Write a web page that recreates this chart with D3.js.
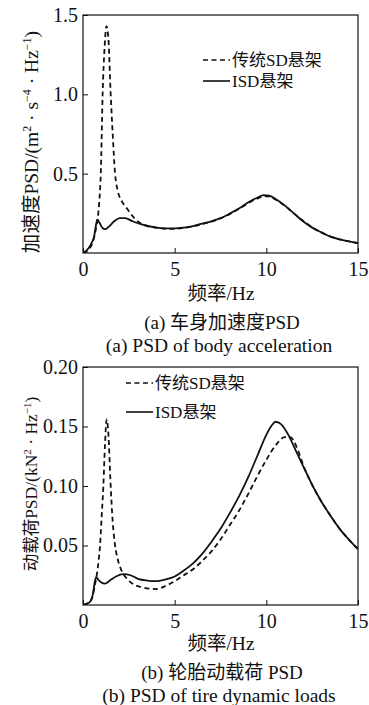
<!DOCTYPE html>
<html>
<head>
<meta charset="utf-8">
<script src="https://cdn.jsdelivr.net/npm/d3@7"></script>
<style>
  body { margin: 0; background: #fff; }
  svg { display: block; }
  svg text { font-family: "Liberation Serif", "DejaVu Serif", "Noto Sans CJK SC", serif; fill: #111; }
</style>
</head>
<body>
<div id="chart"></div>
<script>
// data
const xTicks = [0, 5, 10, 15];
const accTicks = [0.5, 1.0, 1.5];
const loadTicks = [0.05, 0.10, 0.15, 0.20];

// (a) body acceleration PSD
const accFreqSD = [0, 0.3, 0.5, 0.7, 0.85, 0.92, 0.97, 1.07, 1.18, 1.28, 1.38, 1.51, 1.62, 1.75, 1.9, 2.1, 2.4, 2.8, 3.1, 3.5, 4, 4.5, 5, 5.5, 6, 6.5, 7, 7.5, 8, 8.5, 9, 9.5, 9.9, 10.2, 10.5, 11, 11.5, 12, 12.5, 13, 13.5, 14, 14.5, 15];
const accSD =     [0, 0.02, 0.06, 0.15, 0.27, 0.38, 0.5, 1.0, 1.3, 1.43, 1.36, 1.0, 0.75, 0.5, 0.39, 0.33, 0.28, 0.22, 0.19, 0.17, 0.16, 0.152, 0.152, 0.158, 0.168, 0.182, 0.198, 0.218, 0.245, 0.277, 0.313, 0.343, 0.358, 0.355, 0.337, 0.298, 0.25, 0.203, 0.162, 0.13, 0.103, 0.086, 0.073, 0.062];
const accFreqISD = [0, 0.3, 0.5, 0.6, 0.7, 0.78, 0.9, 1.05, 1.2, 1.4, 1.7, 2.0, 2.3, 2.7, 3.2, 4, 4.5, 5, 5.5, 6, 6.5, 7, 7.5, 8, 8.5, 9, 9.5, 9.85, 10.2, 10.5, 11, 11.5, 12, 12.5, 13, 13.5, 14, 14.5, 15];
const accISD =     [0, 0.03, 0.07, 0.1, 0.17, 0.21, 0.19, 0.16, 0.15, 0.165, 0.2, 0.22, 0.22, 0.2, 0.18, 0.16, 0.155, 0.155, 0.16, 0.17, 0.185, 0.2, 0.22, 0.248, 0.28, 0.318, 0.348, 0.365, 0.36, 0.34, 0.3, 0.25, 0.2, 0.16, 0.13, 0.103, 0.086, 0.073, 0.063];

// (b) tire dynamic load PSD
const loadFreqSD = [0, 0.3, 0.5, 0.65, 0.75, 0.85, 0.93, 1.02, 1.11, 1.2, 1.29, 1.38, 1.51, 1.62, 1.75, 1.9, 2.1, 2.4, 2.8, 3.2, 3.6, 4.0, 4.5, 5.0, 5.5, 6.0, 6.5, 7.0, 7.5, 8.0, 8.5, 9.0, 9.5, 10.0, 10.5, 11.0, 11.3, 11.7, 12.0, 12.5, 13.0, 13.5, 14.0, 14.5, 15.0];
const loadSD =     [0, 0.002, 0.006, 0.017, 0.025, 0.037, 0.05, 0.075, 0.1, 0.135, 0.156, 0.145, 0.1, 0.07, 0.05, 0.038, 0.029, 0.022, 0.017, 0.015, 0.0138, 0.0134, 0.016, 0.02, 0.025, 0.03, 0.037, 0.045, 0.055, 0.067, 0.079, 0.093, 0.108, 0.122, 0.134, 0.141, 0.141, 0.131, 0.118, 0.101, 0.087, 0.075, 0.064, 0.055, 0.047];
const loadFreqISD = [0, 0.2, 0.4, 0.55, 0.65, 0.72, 0.85, 1.0, 1.2, 1.5, 1.8, 2.2, 2.6, 3.0, 3.5, 4.0, 4.5, 5.0, 5.5, 6.0, 6.5, 7.0, 7.5, 8.0, 8.5, 9.0, 9.5, 10.0, 10.3, 10.5, 10.8, 11.2, 11.6, 12.0, 12.5, 13.0, 13.5, 14.0, 14.5, 15.0];
const loadISD =     [0, 0.001, 0.003, 0.01, 0.02, 0.0235, 0.021, 0.019, 0.018, 0.021, 0.024, 0.026, 0.025, 0.022, 0.0205, 0.02, 0.0215, 0.024, 0.029, 0.035, 0.043, 0.053, 0.064, 0.077, 0.091, 0.107, 0.125, 0.143, 0.151, 0.154, 0.152, 0.143, 0.13, 0.117, 0.101, 0.087, 0.075, 0.064, 0.055, 0.047];

const legendSD = "传统SD悬架";
const legendISD = "ISD悬架";
const xTitle = "频率/Hz";

const FONT = '"Liberation Serif", "DejaVu Serif", "Noto Sans CJK SC", serif';

const svg = d3.select("#chart")
  .append("svg")
  .attr("width", 369)
  .attr("height", 705);

const x0 = 83, x1 = 358;

function drawPanel(p) {
  const g = svg.append("g");
  const xScale = d3.scaleLinear().domain([0, 15]).range([x0, x1]);
  const yScale = d3.scaleLinear().domain([0, p.yMax]).range([p.bottom, p.top]);

  const clipId = "clip-" + p.id;
  g.append("clipPath").attr("id", clipId)
    .append("rect")
    .attr("x", x0).attr("y", p.top)
    .attr("width", x1 - x0).attr("height", p.bottom - p.top);

  // axes: ticks point inward
  const xAxis = d3.axisBottom(xScale).tickValues(xTicks).tickSizeInner(-5).tickSizeOuter(0).tickPadding(9);
  const yAxis = d3.axisLeft(yScale).tickValues(p.yTicks).tickFormat(d3.format(p.fmt)).tickSizeInner(-5).tickSizeOuter(0).tickPadding(5);

  const gx = g.append("g").attr("transform", `translate(0, ${p.bottom})`).call(xAxis);
  const gy = g.append("g").attr("transform", `translate(${x0}, 0)`).call(yAxis);
  [gx, gy].forEach((a) => {
    a.attr("font-family", FONT);
    a.select(".domain").remove();
    a.selectAll("text").style("font-size", "20px").style("font-family", FONT).attr("fill", "#111");
    a.selectAll("line").attr("stroke", "#111");
  });
  gx.selectAll("text").attr("dy", "0.71em");

  g.append("rect")
    .attr("x", x0).attr("y", p.top)
    .attr("width", x1 - x0).attr("height", p.bottom - p.top)
    .attr("fill", "none").attr("stroke", "#111").attr("stroke-width", 1.2);

  const line = d3.line()
    .x((d) => xScale(d[0]))
    .y((d) => yScale(d[1]))
    .curve(d3.curveMonotoneX);

  const sd = p.freqSD.map((f, i) => [f, p.valSD[i]]);
  const isd = p.freqISD.map((f, i) => [f, p.valISD[i]]);

  g.append("path").datum(sd)
    .attr("clip-path", `url(#${clipId})`)
    .attr("d", line).attr("fill", "none")
    .attr("stroke", "#111").attr("stroke-width", 1.8)
    .attr("stroke-dasharray", "5,3.5");
  g.append("path").datum(isd)
    .attr("clip-path", `url(#${clipId})`)
    .attr("d", line).attr("fill", "none")
    .attr("stroke", "#111").attr("stroke-width", 1.8);

  // legend
  const lg = g.append("g").attr("transform", `translate(${p.legX}, ${p.legY})`);
  lg.append("line").attr("x1", 0).attr("x2", 27).attr("y1", 0).attr("y2", 0)
    .attr("stroke", "#111").attr("stroke-width", 1.6).attr("stroke-dasharray", "5,3.5");
  lg.append("text").attr("x", 29).attr("y", 0).attr("dy", "0.35em")
    .style("font-size", "17px").text(legendSD);
  lg.append("line").attr("x1", 0).attr("x2", 27).attr("y1", p.legGap).attr("y2", p.legGap)
    .attr("stroke", "#111").attr("stroke-width", 1.6);
  lg.append("text").attr("x", 29).attr("y", p.legGap).attr("dy", "0.35em")
    .style("font-size", "17px").text(legendISD);

  // y title with superscripts
  const yt = g.append("text")
    .attr("transform", `translate(31, ${p.yTitleY}) rotate(-90)`)
    .attr("text-anchor", "middle")
    .attr("dy", "0.35em")
    .style("font-size", p.yTitleSize + "px");
  p.yTitle.forEach((part) => {
    const t = yt.append("tspan").text(part[0]);
    if (part[1]) t.attr("baseline-shift", "super").style("font-size", Math.round(p.yTitleSize * 0.62) + "px");
  });

  g.append("text").attr("x", 221).attr("y", p.xTitleY).attr("dy", "0.35em")
    .attr("text-anchor", "middle").style("font-size", "19.5px").text(xTitle);
  g.append("text").attr("x", 222).attr("y", p.capY).attr("dy", "0.35em")
    .attr("text-anchor", "middle").style("font-size", "19px").text(p.cap1);
  g.append("text").attr("x", 219).attr("y", p.capY + 23).attr("dy", "0.35em")
    .attr("text-anchor", "middle").style("font-size", "19.5px").text(p.cap2);
}

drawPanel({
  id: "a", top: 15, bottom: 253, yMax: 1.5, yTicks: accTicks, fmt: ".1f",
  freqSD: accFreqSD, valSD: accSD, freqISD: accFreqISD, valISD: accISD,
  legX: 203, legY: 60, legGap: 21,
  yTitleY: 142, yTitleSize: 19.5,
  yTitle: [["加速度PSD/(m"], ["2", true], [" · s"], ["−4", true], [" · Hz"], ["−1", true], [")"]],
  xTitleY: 293, capY: 322,
  cap1: "(a) 车身加速度PSD", cap2: "(a) PSD of body acceleration"
});

drawPanel({
  id: "b", top: 367, bottom: 605, yMax: 0.2, yTicks: loadTicks, fmt: ".2f",
  freqSD: loadFreqSD, valSD: loadSD, freqISD: loadFreqISD, valISD: loadISD,
  legX: 126, legY: 383, legGap: 29,
  yTitleY: 484, yTitleSize: 17.5,
  yTitle: [["动载荷PSD/(kN"], ["2", true], [" · Hz"], ["−1", true], [")"]],
  xTitleY: 643, capY: 672,
  cap1: "(b) 轮胎动载荷 PSD", cap2: "(b) PSD of tire dynamic loads"
});
</script>
</body>
</html>
